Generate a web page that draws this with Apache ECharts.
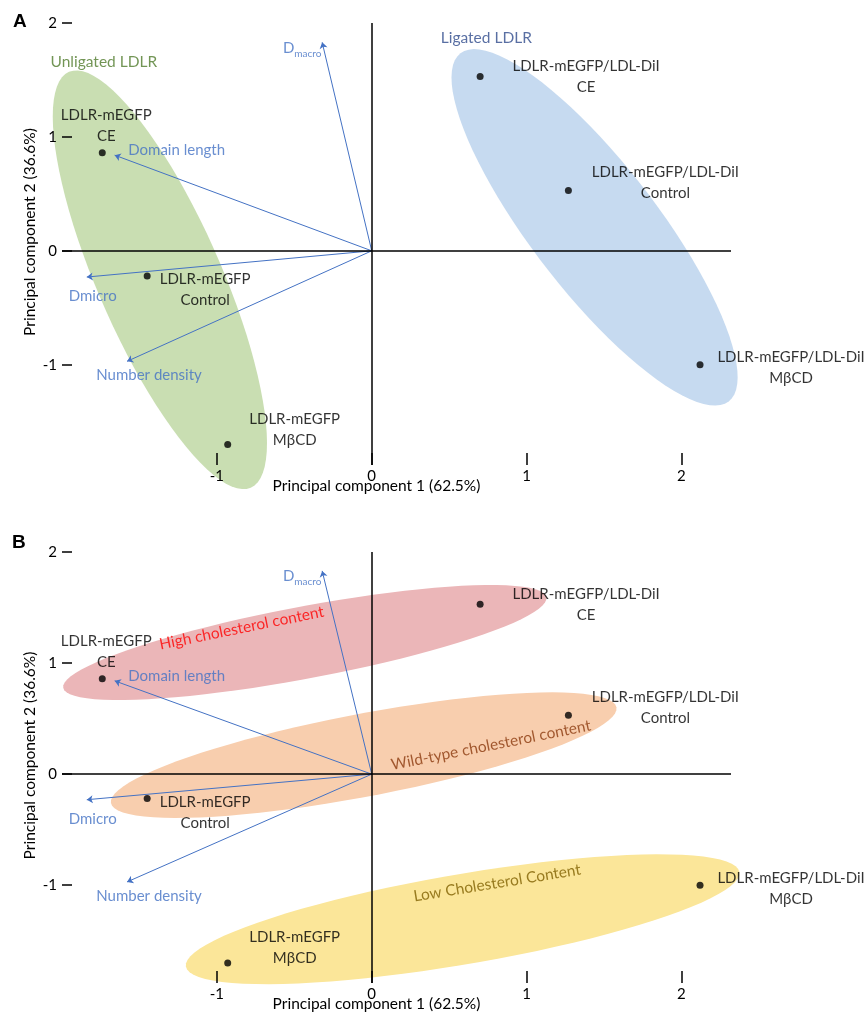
<!DOCTYPE html>
<html>
<head>
<meta charset="utf-8">
<script src="https://cdn.jsdelivr.net/npm/echarts@6/dist/echarts.min.js"></script>
<style>
  html, body { margin: 0; padding: 0; background: #fff; }
  #chart { width: 864px; height: 1013px; }
</style>
</head>
<body>
<div id="chart"></div>
<script>
// sample scores (PC1, PC2)
const sampleNames = [
  'LDLR-mEGFP\nCE', 'LDLR-mEGFP\nControl', 'LDLR-mEGFP\nMβCD',
  'LDLR-mEGFP/LDL-DiI\nCE', 'LDLR-mEGFP/LDL-DiI\nControl', 'LDLR-mEGFP/LDL-DiI\nMβCD'
]
const pc1Scores = [-1.74, -1.45, -0.93, 0.70, 1.27, 2.12]
const pc2Scores = [0.86, -0.22, -1.70, 1.53, 0.53, -1.00]

// variable loadings (arrows)
const loadingNames = ['Dmacro', 'Domain length', 'Dmicro', 'Number density']
const loadingPC1 = [-0.32, -1.66, -1.84, -1.58]
const loadingPC2 = [1.83, 0.84, -0.23, -0.97]

// group ellipses: centre + two conjugate semi-axes, in PC units
const groupsA = ['Unligated LDLR', 'Ligated LDLR']
const ellipsesA = [
  [-1.368, -0.254, -0.587, 1.825, 0.366, 0.218],
  [1.439, 0.206, -0.866, 1.528, 0.322, 0.337]
]
const groupLabelPosA = [[-1.73, 1.66], [0.74, 1.87]]

const groupsB = ['High cholesterol content', 'Wild-type cholesterol content', 'Low Cholesterol Content']
const ellipsesB = [
  [-0.432, 1.185, 1.560, 0.408, 0.043, -0.319],
  [-0.052, 0.171, 1.632, 0.431, 0.050, -0.366],
  [0.587, -1.306, 1.787, 0.426, 0.049, -0.400]
]
const groupLabelPosB = [[-0.84, 1.315], [0.77, 0.26], [0.81, -0.98]]

const tickValues = [-1, 0, 1, 2]
const xTitle = 'Principal component 1 (62.5%)'
const yTitle = 'Principal component 2 (36.6%)'

// ---- styling / layout ----
const FONT = 'Lato, "Open Sans", sans-serif'
const ARROW = '#4472C4'
const pointLabelOffsets = [[4, -27], [58, 14], [67, -15], [106, 0], [97, -8], [91, 3]]
const loadingLabelOffsets = [[-20, 7], [62, -5], [6, 19], [22, 14]]
const ellipseColorsA = ['#C9DEB2', '#C6DAF0']
const ellipseColorsB = ['#EBB6B8', '#F8CEAE', '#FBE699']
const groupColorsA = ['#4F7A2A', '#2F4B8C']
const groupColorsB = ['#FF0000', '#8B3A0E', '#7F6000']
const groupRotateB = [11.4, 11.3, 9.2]

const chart = echarts.init(document.getElementById('chart'))

function ellipseItem(params, api) {
  const cx = api.value(0), cy = api.value(1)
  const ax = api.value(2), ay = api.value(3)
  const bx = api.value(4), by = api.value(5)
  const pts = []
  for (let i = 0; i < 90; i++) {
    const t = i / 90 * Math.PI * 2
    pts.push(api.coord([cx + ax * Math.cos(t) + bx * Math.sin(t), cy + ay * Math.cos(t) + by * Math.sin(t)]))
  }
  return { type: 'polygon', shape: { points: pts }, style: { fill: api.visual('color') } }
}

function panelSeries(idx, ellipses, colors, groups, groupPos, groupColors, groupRotate) {
  const axes = { xAxisIndex: idx, yAxisIndex: idx }
  return [
    {
      type: 'custom', ...axes, z: 1, silent: true,
      renderItem: ellipseItem,
      encode: { x: [0], y: [1] },
      data: ellipses.map((e, i) => ({ value: e, itemStyle: { color: colors[i] } }))
    },
    {
      type: 'line', ...axes, z: 2, data: [],
      markLine: {
        silent: true, symbol: 'none', animation: false,
        label: { show: false },
        lineStyle: { color: '#000', width: 1.5, type: 'solid' },
        data: [{ xAxis: 0 }, { yAxis: 0 }]
      }
    },
    {
      type: 'lines', coordinateSystem: 'cartesian2d', ...axes, z: 3, silent: true,
      symbol: ['none', 'arrow'], symbolSize: 6,
      lineStyle: { color: ARROW, width: 1, opacity: 1 },
      data: loadingNames.map((n, i) => ({ coords: [[0, 0], [loadingPC1[i], loadingPC2[i]]] }))
    },
    {
      type: 'scatter', ...axes, z: 3, silent: true, symbolSize: 0.1,
      itemStyle: { color: 'transparent' },
      data: loadingNames.map((n, i) => ({
        value: [loadingPC1[i], loadingPC2[i]],
        label: {
          show: true, position: 'inside', offset: loadingLabelOffsets[i],
          formatter: n === 'Dmacro' ? '{d|D}{s|macro}' : n,
          color: ARROW, fontSize: 15, fontFamily: FONT,
          rich: {
            d: { fontSize: 15, color: ARROW, fontFamily: FONT, verticalAlign: 'bottom', lineHeight: 18, padding: [0, 0, 3, 0] },
            s: { fontSize: 10, color: ARROW, fontFamily: FONT, verticalAlign: 'bottom', lineHeight: 10 }
          }
        }
      }))
    },
    {
      type: 'scatter', ...axes, z: 4, silent: true, symbolSize: 7,
      itemStyle: { color: '#000' },
      data: sampleNames.map((n, i) => ({
        value: [pc1Scores[i], pc2Scores[i]],
        label: {
          show: true, position: 'inside', offset: pointLabelOffsets[i],
          formatter: n, color: '#000', fontSize: 15, lineHeight: 21,
          fontFamily: FONT, align: 'center', verticalAlign: 'middle'
        }
      }))
    },
    {
      type: 'scatter', ...axes, z: 4, silent: true, symbolSize: 0.1,
      itemStyle: { color: 'transparent' },
      data: groups.map((g, i) => ({
        value: groupPos[i],
        label: {
          show: true, position: 'inside', formatter: g,
          color: groupColors[i], fontSize: 15.5, fontFamily: FONT,
          rotate: groupRotate ? groupRotate[i] : 0
        }
      }))
    }
  ]
}

function xAxisFor(idx) {
  return {
    gridIndex: idx, type: 'value', min: -2, max: 2.32, z: 10,
    axisLine: { show: false, onZero: false }, splitLine: { show: false },
    axisTick: { show: true, inside: true, length: 12, customValues: tickValues, lineStyle: { color: '#000', width: 1.5 } },
    axisLabel: { customValues: tickValues, color: '#000', fontSize: 15, fontFamily: FONT, margin: 4 },
    name: xTitle, nameLocation: 'middle', nameGap: 13, nameMoveOverlap: false,
    nameTextStyle: { color: '#000', fontSize: 15.5, fontFamily: FONT, padding: [0, 40, 0, 0] }
  }
}

function yAxisFor(idx) {
  return {
    gridIndex: idx, type: 'value', min: -1.88, max: 2, z: 10,
    axisLine: { show: false, onZero: false }, splitLine: { show: false },
    axisTick: { show: true, inside: true, length: 10, customValues: tickValues, lineStyle: { color: '#000', width: 1.5 } },
    axisLabel: { customValues: tickValues, color: '#000', fontSize: 15, fontFamily: FONT, margin: 5 },
    name: yTitle, nameLocation: 'middle', nameGap: 24, nameMoveOverlap: false,
    nameTextStyle: { color: '#000', fontSize: 15.5, fontFamily: FONT, padding: [0, 0, 0, 24] }
  }
}

const option = {
  animation: false,
  backgroundColor: '#fff',
  title: [
    { text: 'A', left: 8, top: 7, textStyle: { fontSize: 19, fontWeight: 'bold', fontFamily: 'Liberation Sans, Arial', color: '#000' } },
    { text: 'B', left: 7, top: 528, textStyle: { fontSize: 19, fontWeight: 'bold', fontFamily: 'Liberation Sans, Arial', color: '#000' } }
  ],
  grid: [
    { left: 62, width: 669, top: 23, height: 442 },
    { left: 62, width: 669, top: 552, height: 431 }
  ],
  xAxis: [xAxisFor(0), xAxisFor(1)],
  yAxis: [yAxisFor(0), yAxisFor(1)],
  series: [
    ...panelSeries(0, ellipsesA, ellipseColorsA, groupsA, groupLabelPosA, groupColorsA, null),
    ...panelSeries(1, ellipsesB, ellipseColorsB, groupsB, groupLabelPosB, groupColorsB, groupRotateB)
  ]
}

chart.setOption(option)
window.addEventListener('resize', () => chart.resize())
</script>
</body>
</html>
